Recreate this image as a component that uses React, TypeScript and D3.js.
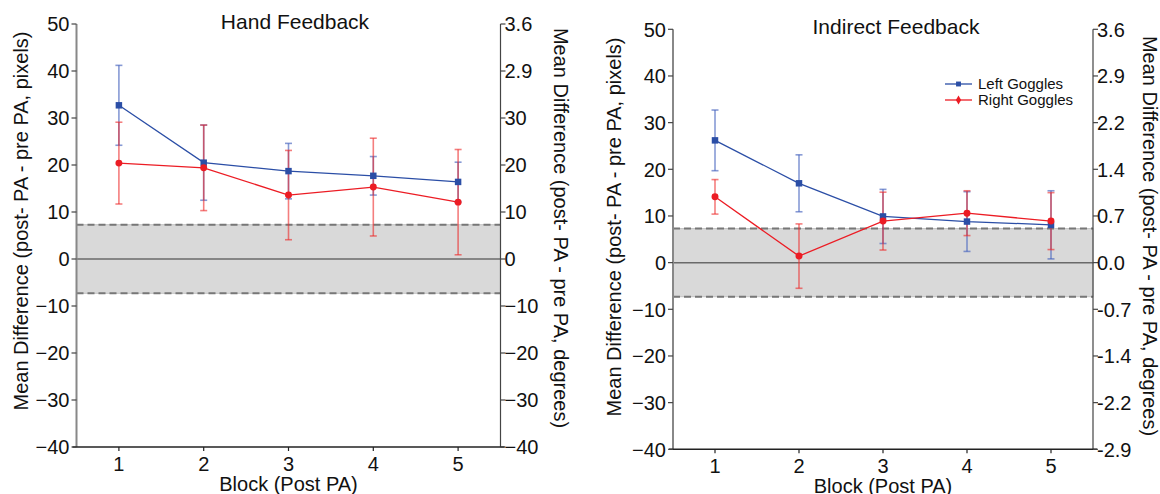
import React from "react";
import * as d3 from "d3";

// blocks after prism adaptation
const blocks = [1, 2, 3, 4, 5];

// Hand Feedback panel
const handLeftMean = [32.7, 20.5, 18.7, 17.7, 16.4];
const handLeftErr = [8.5, 8.0, 5.9, 4.1, 4.2];
const handRightMean = [20.4, 19.4, 13.6, 15.3, 12.1];
const handRightErr = [8.7, 9.1, 9.5, 10.4, 11.2];

// Indirect Feedback panel
const indLeftMean = [26.2, 17.0, 9.9, 8.8, 8.1];
const indLeftErr = [6.5, 6.1, 5.8, 6.4, 7.3];
const indRightMean = [14.1, 1.4, 8.9, 10.6, 8.9];
const indRightErr = [3.7, 6.9, 6.2, 4.8, 6.1];

// shaded region (+/- threshold, pixels)
const bandLimit = 7.3;

const leftTicks = [50, 40, 30, 20, 10, 0, -10, -20, -30, -40];
const handRightLabels = ["3.6", "2.9", "30", "20", "10", "0", "\u221210", "\u221220", "\u221230", "\u221240"];
const indRightLabels = ["3.6", "2.9", "2.2", "1.4", "0.7", "0.0", "-0.7", "-1.4", "-2.2", "-2.9"];

const seriesNames = ["Left Goggles", "Right Goggles"];

const BLUE = "#2b4ea6";
const RED = "#ec1c24";
const BLUE_ERR = "rgba(70,100,190,0.65)";
const RED_ERR = "rgba(236,40,40,0.6)";
const FONT = "'Liberation Sans', Arial, Helvetica, sans-serif";

const fmtLeft = (v: number) => (v < 0 ? "\u2212" + Math.abs(v) : String(v));

type PanelProps = {
  title: string;
  titleX: number;
  x0: number;
  x1: number;
  yTop: number;
  yBot: number;
  leftMean: number[];
  leftErr: number[];
  rightMean: number[];
  rightErr: number[];
  rightLabels: string[];
  leftTitleX: number;
  leftTitleY: number;
  rightTitleX: number;
  rightTitleY: number;
  legend?: boolean;
};

function Panel(p: PanelProps) {
  const x = d3.scaleLinear().domain([0.5, 5.5]).range([p.x0, p.x1]);
  const y = d3.scaleLinear().domain([-40, 50]).range([p.yBot, p.yTop]);
  const lineGen = d3
    .line<number>()
    .x((_, i) => x(blocks[i]))
    .y((d) => y(d));
  const square = d3.symbol().type(d3.symbolSquare).size(42)();
  const dot = d3.symbol().type(d3.symbolCircle).size(38)();
  const xMid = (p.x0 + p.x1) / 2;

  const errBars = (mean: number[], err: number[], color: string) =>
    mean.map((m, i) => {
      const cx = x(blocks[i]);
      const t = y(m + err[i]);
      const b = y(m - err[i]);
      return (
        <g key={i} stroke={color} strokeWidth={1.6}>
          <line x1={cx} x2={cx} y1={t} y2={b} />
          <line x1={cx - 3.5} x2={cx + 3.5} y1={t} y2={t} />
          <line x1={cx - 3.5} x2={cx + 3.5} y1={b} y2={b} />
        </g>
      );
    });

  return (
    <g fontFamily={FONT}>
      {/* shaded band */}
      <rect
        x={p.x0}
        y={y(bandLimit)}
        width={p.x1 - p.x0}
        height={y(-bandLimit) - y(bandLimit)}
        fill="#d9d9d9"
        stroke="#c4c4c4"
        strokeWidth={1}
      />
      <line x1={p.x0} x2={p.x1} y1={y(bandLimit)} y2={y(bandLimit)} stroke="#777" strokeWidth={2} strokeDasharray="7,4" />
      <line x1={p.x0} x2={p.x1} y1={y(-bandLimit)} y2={y(-bandLimit)} stroke="#777" strokeWidth={2} strokeDasharray="7,4" />
      <line x1={p.x0} x2={p.x1} y1={y(0)} y2={y(0)} stroke="#6a6a6a" strokeWidth={1.5} />

      {/* axes */}
      <line x1={p.x0} x2={p.x0} y1={p.yTop} y2={p.yBot} stroke="#888" strokeWidth={2} />
      <line x1={p.x1} x2={p.x1} y1={p.yTop} y2={p.yBot} stroke="#444" strokeWidth={1.2} />
      <line x1={p.x0 - 4} x2={p.x1 + 4} y1={p.yBot} y2={p.yBot} stroke="#222" strokeWidth={1.5} />
      {leftTicks.map((v, i) => (
        <g key={v}>
          <line x1={p.x0 - 5} x2={p.x0} y1={y(v)} y2={y(v)} stroke="#444" strokeWidth={1.2} />
          <text x={p.x0 - 7} y={y(v)} dy="0.36em" textAnchor="end" fontSize={20} fill="#111">
            {fmtLeft(v)}
          </text>
          <line x1={p.x1} x2={p.x1 + 5} y1={y(v)} y2={y(v)} stroke="#444" strokeWidth={1.2} />
          <text x={p.x1 + 4} y={y(v)} dy="0.36em" textAnchor="start" fontSize={20} fill="#111">
            {p.rightLabels[i]}
          </text>
        </g>
      ))}
      {blocks.map((b) => (
        <g key={b}>
          <line x1={x(b)} x2={x(b)} y1={p.yBot} y2={p.yBot + 4} stroke="#222" strokeWidth={1.2} />
          <text x={x(b)} y={p.yBot + 24} textAnchor="middle" fontSize={20} fill="#111">
            {b}
          </text>
        </g>
      ))}

      {/* titles */}
      <text x={p.titleX} y={p.yTop + 5} textAnchor="middle" fontSize={21} fill="#111">
        {p.title}
      </text>
      <text x={xMid} y={p.yBot + 44} textAnchor="middle" fontSize={20} fill="#111">
        Block (Post PA)
      </text>
      <text
        transform={`translate(${p.leftTitleX},${p.leftTitleY}) rotate(-90)`}
        textAnchor="middle"
        fontSize={20}
        fill="#111"
      >
        Mean Difference (post- PA - pre PA, pixels)
      </text>
      <text
        transform={`translate(${p.rightTitleX},${p.rightTitleY}) rotate(90)`}
        textAnchor="middle"
        fontSize={20}
        fill="#111"
      >
        Mean Difference (post- PA - pre PA, degrees)
      </text>

      {/* error bars */}
      {errBars(p.leftMean, p.leftErr, BLUE_ERR)}
      {errBars(p.rightMean, p.rightErr, RED_ERR)}

      {/* series lines */}
      <path d={lineGen(p.leftMean) || ""} fill="none" stroke={BLUE} strokeWidth={1.3} />
      <path d={lineGen(p.rightMean) || ""} fill="none" stroke={RED} strokeWidth={1.3} />
      {p.leftMean.map((m, i) => (
        <path key={"s" + i} d={square || ""} transform={`translate(${x(blocks[i])},${y(m)})`} fill={BLUE} />
      ))}
      {p.rightMean.map((m, i) => (
        <path key={"d" + i} d={dot || ""} transform={`translate(${x(blocks[i])},${y(m)})`} fill={RED} />
      ))}

      {p.legend && (
        <g>
          {seriesNames.map((name, i) => {
            const ly = 84 + i * 16;
            return (
              <g key={name}>
                <line x1={945} x2={972} y1={ly} y2={ly} stroke={i === 0 ? BLUE : RED} strokeWidth={1.3} />
                <path
                  d={(i === 0 ? d3.symbol().type(d3.symbolSquare).size(24)() : d3.symbol().type(d3.symbolDiamond).size(24)()) || ""}
                  transform={`translate(958.5,${ly})`}
                  fill={i === 0 ? BLUE : RED}
                />
                <text x={978} y={ly} dy="0.35em" fontSize={15} fill="#111">
                  {name}
                </text>
              </g>
            );
          })}
        </g>
      )}
    </g>
  );
}

export default function App() {
  return (
    <svg
      width={1160}
      height={494}
      style={{ position: "absolute", left: 0, top: 0, background: "#fff" }}
    >
      <Panel
        title="Hand Feedback"
        titleX={295}
        x0={76.5}
        x1={500.5}
        yTop={24}
        yBot={447}
        leftMean={handLeftMean}
        leftErr={handLeftErr}
        rightMean={handRightMean}
        rightErr={handRightErr}
        rightLabels={handRightLabels}
        leftTitleX={28}
        leftTitleY={221}
        rightTitleX={554}
        rightTitleY={228}
      />
      <Panel
        title="Indirect Feedback"
        titleX={896}
        x0={673}
        x1={1093}
        yTop={29.3}
        yBot={449.3}
        leftMean={indLeftMean}
        leftErr={indLeftErr}
        rightMean={indRightMean}
        rightErr={indRightErr}
        rightLabels={indRightLabels}
        leftTitleX={621}
        leftTitleY={227}
        rightTitleX={1143}
        rightTitleY={236}
        legend
      />
    </svg>
  );
}
